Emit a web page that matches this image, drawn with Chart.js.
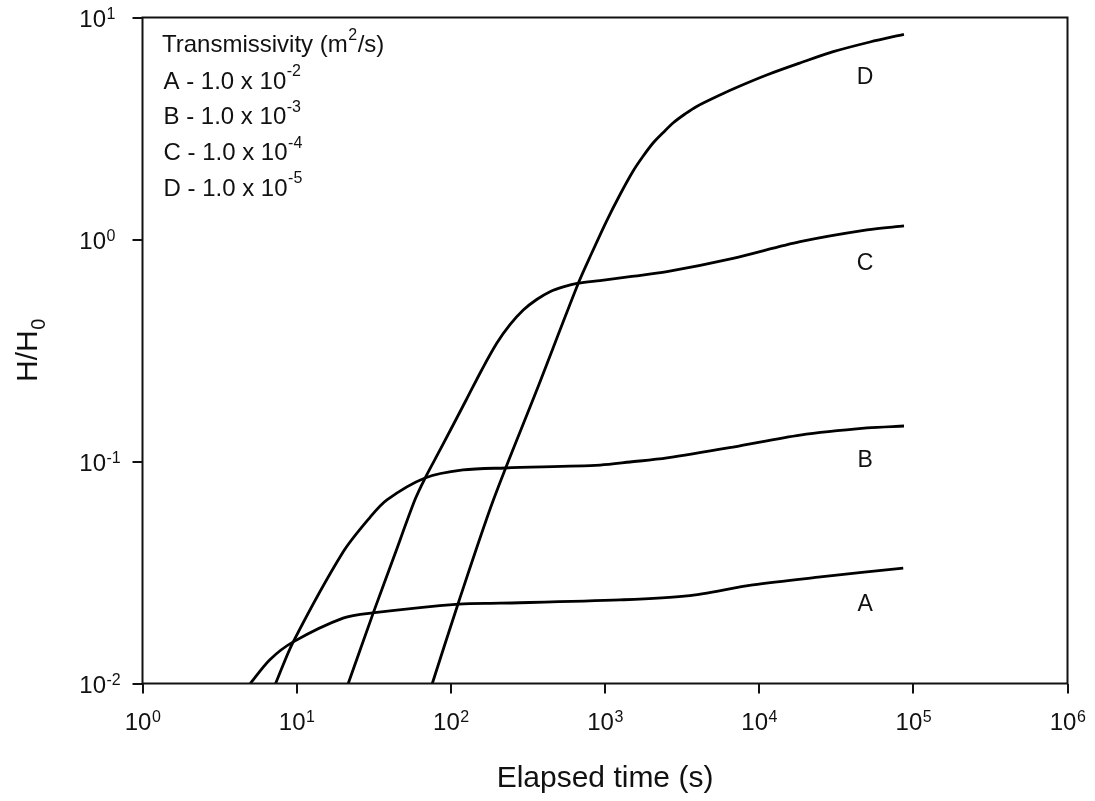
<!DOCTYPE html>
<html>
<head>
<meta charset="utf-8">
<script src="https://cdn.jsdelivr.net/npm/chart.js@4.4.1/dist/chart.umd.min.js"></script>
<style>
  html, body { margin: 0; padding: 0; background: #ffffff; }
  #wrap { width: 1095px; height: 801px; }
</style>
</head>
<body>
<div id="wrap"><canvas id="chart" width="1095" height="801"></canvas></div>
<script>
// Elapsed time (s) and normalised head H/H0 for four transmissivities
const timeA = [5.0, 6.7, 9.5, 20, 31, 113, 208, 1250, 3400, 9100, 25000, 86000];
const headA = [0.0100, 0.0128, 0.0154, 0.0197, 0.0208, 0.0228, 0.0230, 0.0238, 0.0248, 0.0278, 0.0302, 0.0331];

const timeB = [7.3, 9.5, 20, 30, 38.5, 68, 120, 225, 930, 1455, 2525, 6770, 18450, 50100, 87000];
const headB = [0.0100, 0.0154, 0.0391, 0.0562, 0.0672, 0.0843, 0.0916, 0.0935, 0.0964, 0.0995, 0.1038, 0.1161, 0.1315, 0.1416, 0.1445];

const timeC = [21.6, 31.4, 43.4, 58.5, 68, 85.1, 126.7, 158.6, 198.5, 241.9, 295.1, 360.5, 439.7, 536.3, 671.2, 928.2, 1452, 2525, 6770, 18450, 50100, 87000];
const headC = [0.0100, 0.0208, 0.0383, 0.0672, 0.0840, 0.1127, 0.1912, 0.2584, 0.3406, 0.4132, 0.4814, 0.5367, 0.5818, 0.6117, 0.6355, 0.6535, 0.6801, 0.716, 0.822, 0.977, 1.104, 1.151];

const timeD = [75.8, 111, 189, 361, 671.2, 823.4, 1025.6, 1250, 1526, 1770, 2057, 2388, 2773, 3303, 3933, 5569, 7508, 11190, 18400, 30250, 52330, 86900];
const headD = [0.0100, 0.0227, 0.0672, 0.2099, 0.6355, 0.8738, 1.214, 1.591, 2.040, 2.377, 2.727, 3.034, 3.356, 3.675, 3.977, 4.477, 4.913, 5.508, 6.237, 7.015, 7.757, 8.40];

const seriesNames = ['A', 'B', 'C', 'D'];
const transExponents = ['-2', '-3', '-4', '-5'];

const xTickValues = [1, 10, 100, 1000, 10000, 100000, 1000000];
const xTickExponents = ['0', '1', '2', '3', '4', '5', '6'];
const yTickValues = [0.01, 0.1, 1, 10];
const yTickExponents = ['-2', '-1', '0', '1'];

const FONT = "'Liberation Sans', Arial, Helvetica, sans-serif";
const INK = '#111111';

function pairs(ts, hs) { return ts.map((t, i) => ({ x: t, y: hs[i] })); }

const curveData = [pairs(timeA, headA), pairs(timeB, headB), pairs(timeC, headC), pairs(timeD, headD)];

// Anchor of each curve's letter, in data units (time, H/H0)
const letterAnchors = { A: [48700, 0.0226], B: [48700, 0.101], C: [48700, 0.781], D: [48700, 5.38] };

function drawPower(ctx, base, exp, x, baseline, align, mainSize, supSize, rise) {
  ctx.font = mainSize + 'px ' + FONT;
  const wb = ctx.measureText(base).width;
  ctx.font = supSize + 'px ' + FONT;
  const we = ctx.measureText(exp).width;
  let x0 = x;
  if (align === 'center') x0 = x - (wb + we) / 2;
  else if (align === 'baseRight') x0 = x - wb;
  ctx.textAlign = 'left';
  ctx.textBaseline = 'alphabetic';
  ctx.font = mainSize + 'px ' + FONT;
  ctx.fillText(base, x0, baseline);
  ctx.font = supSize + 'px ' + FONT;
  ctx.fillText(exp, x0 + wb + 0.5, baseline - rise);
}

const decorations = {
  id: 'decorations',
  afterDraw(chart) {
    const { ctx, chartArea: a, scales } = chart;
    const xs = scales.x, ys = scales.y;
    ctx.save();
    ctx.fillStyle = INK;

    // frame around the plotting area
    ctx.strokeStyle = INK;
    ctx.lineWidth = 2;
    ctx.strokeRect(a.left, a.top, a.right - a.left, a.bottom - a.top);

    // x tick labels: 10^n centred under each tick
    xTickValues.forEach((v, i) => {
      const px = xs.getPixelForValue(v);
      drawPower(ctx, '10', xTickExponents[i], px, a.bottom + 46.5, 'center', 24, 16, 8);
    });

    // y tick labels: 10^n to the left of each tick
    yTickValues.forEach((v, i) => {
      const py = ys.getPixelForValue(v);
      drawPower(ctx, '10', yTickExponents[i], 106, py + 9, 'baseRight', 24, 16, 8);
    });

    // axis titles
    ctx.font = '30px ' + FONT;
    ctx.textAlign = 'center';
    ctx.textBaseline = 'alphabetic';
    ctx.fillText('Elapsed time (s)', (a.left + a.right) / 2, 786.5);

    ctx.save();
    ctx.translate(36.5, (a.top + a.bottom) / 2);
    ctx.rotate(-Math.PI / 2);
    ctx.font = '30px ' + FONT;
    const wMain = ctx.measureText('H/H').width;
    ctx.font = '20px ' + FONT;
    const wSub = ctx.measureText('0').width;
    ctx.textAlign = 'left';
    ctx.font = '30px ' + FONT;
    ctx.fillText('H/H', -(wMain + wSub) / 2, 0);
    ctx.font = '20px ' + FONT;
    ctx.fillText('0', -(wMain + wSub) / 2 + wMain + 0.5, 8);
    ctx.restore();

    // curve letters
    ctx.font = '23px ' + FONT;
    ctx.textAlign = 'center';
    ctx.textBaseline = 'middle';
    seriesNames.forEach(n => {
      const [t, h] = letterAnchors[n];
      ctx.fillText(n, xs.getPixelForValue(t), ys.getPixelForValue(h));
    });

    // key in the upper-left corner
    const kx = a.left + 19.5;
    ctx.textAlign = 'left';
    ctx.textBaseline = 'alphabetic';
    ctx.font = '24px ' + FONT;
    const head1 = 'Transmissivity (m';
    ctx.fillText(head1, kx, 52);
    const w1 = ctx.measureText(head1).width;
    ctx.font = '16px ' + FONT;
    ctx.fillText('2', kx + w1 + 0.5, 52 - 12);
    const w2 = ctx.measureText('2').width;
    ctx.font = '24px ' + FONT;
    ctx.fillText('/s)', kx + w1 + w2 + 1, 52);

    seriesNames.forEach((n, i) => {
      const base = 53 + 35.7 * (i + 1);
      drawPower(ctx, n + ' - 1.0 x 10', transExponents[i], kx + 1.5, base, 'left', 24, 16, 12.5);
    });

    ctx.restore();
  }
};

const datasets = curveData.map((d, i) => ({
  label: seriesNames[i],
  data: d,
  borderColor: '#000000',
  backgroundColor: '#000000',
  borderWidth: 2.8,
  pointRadius: 0,
  pointHoverRadius: 0,
  fill: false,
  tension: 0.3,
  showLine: true
}));

new Chart(document.getElementById('chart'), {
  type: 'scatter',
  data: { datasets },
  options: {
    responsive: false,
    animation: false,
    events: [],
    layout: { padding: { left: 0, top: 17.5, right: 27.5, bottom: 0 } },
    plugins: { legend: { display: false }, tooltip: { enabled: false } },
    scales: {
      x: {
        type: 'logarithmic',
        min: 1,
        max: 1000000,
        afterBuildTicks: s => { s.ticks = xTickValues.map(v => ({ value: v })); },
        afterFit: s => { s.height = 117.5; },
        ticks: { display: false },
        border: { display: false },
        grid: { display: true, drawOnChartArea: false, drawTicks: true, tickLength: 10, color: INK, lineWidth: 2 }
      },
      y: {
        type: 'logarithmic',
        min: 0.01,
        max: 10,
        afterBuildTicks: s => { s.ticks = yTickValues.map(v => ({ value: v })); },
        afterFit: s => { s.width = 142.5; },
        ticks: { display: false },
        border: { display: false },
        grid: { display: true, drawOnChartArea: false, drawTicks: true, tickLength: 10, color: INK, lineWidth: 2 }
      }
    }
  },
  plugins: [decorations]
});
</script>
</body>
</html>
